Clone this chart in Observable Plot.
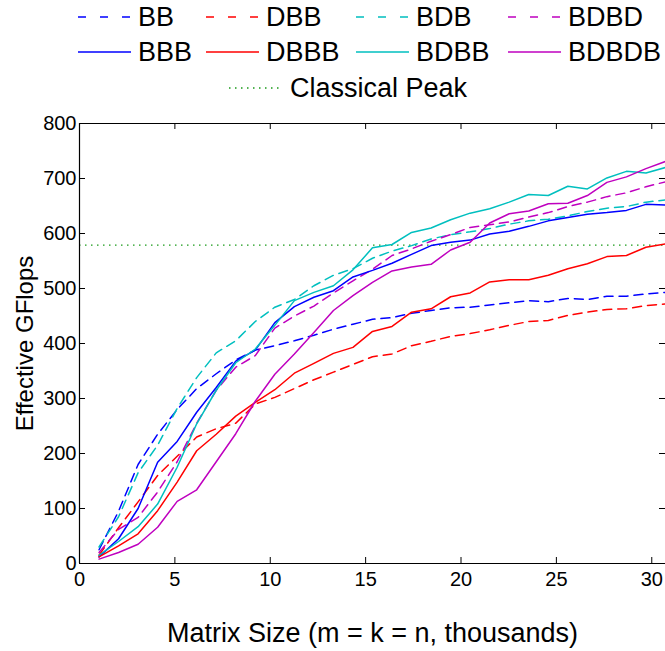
<!DOCTYPE html>
<html>
<head>
<meta charset="utf-8">
<script src="https://cdn.jsdelivr.net/npm/d3@7"></script>
<script src="https://cdn.jsdelivr.net/npm/@observablehq/plot@0.6"></script>
<style>
  html, body { margin: 0; padding: 0; background: #fff; overflow: hidden; }
  #legend { display: block; }
  #chart svg { display: block; }
</style>
</head>
<body>
<svg id="legend" width="665" height="105"></svg>
<div id="chart"></div>
<script>
// Matrix size in thousands (m = k = n)
const sizes = [1.024, 2.048, 3.072, 4.096, 5.12, 6.144, 7.168, 8.192, 9.216, 10.24,
  11.264, 12.288, 13.312, 14.336, 15.36, 16.384, 17.408, 18.432, 19.456, 20.48,
  21.504, 22.528, 23.552, 24.576, 25.6, 26.624, 27.648, 28.672, 29.696, 30.72];

const seriesNames = ["BB", "DBB", "BDB", "BDBD", "BBB", "DBBB", "BDBB", "BDBDB"];

const BB    = [25, 95, 180, 235, 280, 318, 345, 370, 388, 396, 405, 415, 426, 435, 444, 447, 455, 460, 465, 466, 470, 474, 478, 476, 482, 480, 486, 486, 490, 493];
const DBB   = [15, 65, 112, 160, 195, 230, 245, 255, 290, 302, 318, 334, 348, 362, 376, 381, 396, 404, 413, 418, 425, 433, 440, 442, 451, 457, 462, 463, 469, 472];
const BDB   = [30, 85, 165, 215, 282, 338, 383, 405, 440, 466, 480, 505, 524, 536, 555, 568, 578, 590, 598, 603, 609, 617, 623, 626, 632, 640, 646, 649, 657, 661];
const BDBD  = [20, 62, 84, 130, 185, 255, 315, 357, 378, 428, 450, 468, 492, 514, 535, 560, 572, 586, 598, 611, 616, 621, 630, 638, 649, 657, 667, 674, 685, 694];
const BBB   = [12, 45, 100, 184, 222, 275, 320, 368, 388, 438, 467, 484, 496, 521, 533, 546, 562, 578, 584, 588, 599, 604, 613, 623, 629, 635, 638, 642, 653, 652];
const DBBB  = [12, 32, 54, 96, 148, 205, 235, 268, 293, 316, 346, 364, 382, 393, 422, 431, 457, 463, 485, 492, 512, 516, 516, 524, 536, 545, 558, 560, 575, 581];
const BDBB  = [15, 40, 67, 108, 175, 254, 315, 365, 390, 433, 478, 493, 505, 534, 574, 580, 602, 610, 625, 637, 645, 657, 671, 669, 686, 681, 701, 713, 710, 720];
const BDBDB = [8, 20, 35, 66, 113, 134, 185, 236, 295, 344, 381, 420, 460, 487, 511, 532, 539, 544, 570, 584, 619, 636, 641, 654, 655, 669, 693, 703, 718, 731];

const classicalPeak = 579;

const xTicks = [0, 5, 10, 15, 20, 25, 30];
const yTicks = [0, 100, 200, 300, 400, 500, 600, 700, 800];

const xLabel = "Matrix Size (m = k = n, thousands)";
const yLabel = "Effective GFlops";
const peakLabel = "Classical Peak";

// styles
const colors = {BB: "#0000ff", DBB: "#ff0000", BDB: "#00bfbf", BDBD: "#bf00bf",
                BBB: "#0000ff", DBBB: "#ff0000", BDBB: "#00bfbf", BDBDB: "#bf00bf"};
const dashed = {BB: true, DBB: true, BDB: true, BDBD: true};
const peakColor = "#1a9a1a";
const FONT = "Liberation Sans, Arial, Helvetica, sans-serif";

const values = {BB, DBB, BDB, BDBD, BBB, DBBB, BDBB, BDBDB};
const rows = [];
for (const name of seriesNames) {
  values[name].forEach((v, i) => rows.push({series: name, size: sizes[i], gflops: v}));
}

// ---- Legend ----
const legend = d3.select("#legend");
const legendItems = [
  {name: "BB", x: 78, row: 0}, {name: "DBB", x: 206, row: 0}, {name: "BDB", x: 356, row: 0}, {name: "BDBD", x: 508, row: 0},
  {name: "BBB", x: 78, row: 1}, {name: "DBBB", x: 206, row: 1}, {name: "BDBB", x: 356, row: 1}, {name: "BDBDB", x: 508, row: 1}
];
const rowY = [17, 52, 88];
const LEG_FS = 27;
for (const it of legendItems) {
  const y = rowY[it.row];
  legend.append("line").attr("x1", it.x).attr("x2", it.x + 53).attr("y1", y).attr("y2", y)
    .attr("stroke", colors[it.name]).attr("stroke-width", 1.5)
    .attr("stroke-dasharray", dashed[it.name] ? "8,14" : null);
  legend.append("text").attr("x", it.x + 60).attr("y", y).attr("dy", "0.35em")
    .attr("font-family", FONT).attr("font-size", LEG_FS).attr("fill", "#000").text(it.name);
}
legend.append("line").attr("x1", 229).attr("x2", 282).attr("y1", rowY[2]).attr("y2", rowY[2])
  .attr("stroke", peakColor).attr("stroke-width", 1.3).attr("stroke-dasharray", "1.5,4.5");
legend.append("text").attr("x", 290).attr("y", rowY[2]).attr("dy", "0.35em")
  .attr("font-family", FONT).attr("font-size", LEG_FS).attr("fill", "#000").text(peakLabel);

// ---- Chart ----
const W = 665, H = 546, mT = 18, mB = 88, mL = 79, mR = 0;
const frameW = W - mL - mR, frameH = H - mT - mB;
const tick = 6;

const lineMarks = seriesNames.map(name => Plot.line(rows.filter(d => d.series === name), {
  x: "size", y: "gflops", stroke: colors[name], strokeWidth: 1.5,
  strokeDasharray: dashed[name] ? "9,6" : null
}));

const chart = Plot.plot({
  width: W, height: H,
  marginTop: mT, marginBottom: mB, marginLeft: mL, marginRight: mR,
  style: {fontFamily: FONT, color: "#000", background: "#fff"},
  x: {domain: [0, 30.72]},
  y: {domain: [0, 800]},
  marks: [
    Plot.ruleY([classicalPeak], {stroke: peakColor, strokeWidth: 1.3, strokeDasharray: "1.5,4.5"}),
    ...lineMarks,
    // box (left, bottom, top)
    Plot.ruleX([0], {stroke: "#000", strokeWidth: 1.2}),
    Plot.ruleY([0, 800], {stroke: "#000", strokeWidth: 1.2}),
    // inward ticks
    Plot.ruleX(xTicks, {stroke: "#000", insetTop: frameH - tick}),
    Plot.ruleX(xTicks, {stroke: "#000", insetBottom: frameH - tick}),
    Plot.ruleY(yTicks, {stroke: "#000", insetRight: frameW - tick}),
    Plot.ruleY(yTicks, {stroke: "#000", insetLeft: frameW - tick}),
    Plot.axisX({ticks: xTicks, tickSize: 0, tickPadding: 8, fontSize: 20, label: null}),
    Plot.axisY({ticks: yTicks, tickSize: 0, tickPadding: 3, fontSize: 20, label: null}),
    Plot.text([xLabel], {frameAnchor: "bottom", dy: 70, lineAnchor: "middle", textAnchor: "middle", fontSize: 27, fill: "#000", text: d => d}),
    Plot.text([yLabel], {frameAnchor: "left", dx: -54, rotate: -90, lineAnchor: "middle", textAnchor: "middle", fontSize: 24, fill: "#000", text: d => d})
  ]
});
document.getElementById("chart").appendChild(chart);
</script>
</body>
</html>
